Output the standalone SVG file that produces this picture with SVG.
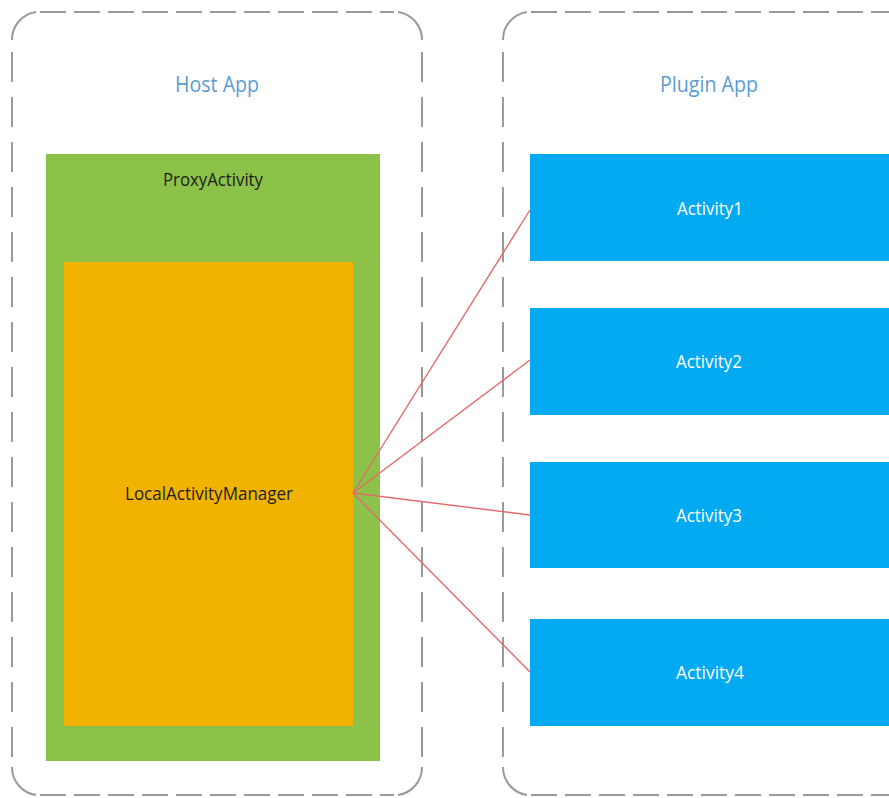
<svg xmlns="http://www.w3.org/2000/svg" width="889" height="798" viewBox="0 0 889 798">
  <style>
    .frame-h { fill: none; stroke: #9a9a9a; stroke-width: 2; stroke-dasharray: 26 8; }
    .frame-v { fill: none; stroke: #9a9a9a; stroke-width: 2; stroke-dasharray: 30 15; }
    .frame-c { fill: none; stroke: #9a9a9a; stroke-width: 2; }
    .title { font-family: "Open Sans", "Noto Sans", sans-serif; font-size: 22px; fill: #5b9bd5; text-anchor: middle; }
    .label { font-family: "Open Sans", "Noto Sans", sans-serif; font-size: 18px; text-anchor: middle; }
    .dark { fill: #1e1e1e; }
    .light { fill: #ffffff; }
    .link { stroke: #e46a6a; stroke-width: 1.4; fill: none; }
    .activity { fill: #03a9f1; }
  </style>

  <rect width="889" height="798" fill="#ffffff"/>

  <!-- Host App frame -->
  <g id="host-app">
    <path class="frame-h" d="M40 12 H394"/>
    <path class="frame-h" d="M40 795 H394"/>
    <path class="frame-v" d="M12 52 V767"/>
    <path class="frame-v" d="M422 52 V767"/>
    <path class="frame-c" d="M12 40 A28 28 0 0 1 36 12"/>
    <path class="frame-c" d="M398 12 A28 28 0 0 1 422 40"/>
    <path class="frame-c" d="M422 767 A28 28 0 0 1 398 795"/>
    <path class="frame-c" d="M36 795 A28 28 0 0 1 12 767"/>
    <text class="title" x="217" y="92" textLength="84" lengthAdjust="spacingAndGlyphs">Host App</text>
  </g>

  <!-- Plugin App frame -->
  <g id="plugin-app">
    <path class="frame-h" d="M531 12 H889"/>
    <path class="frame-h" d="M531 795 H889"/>
    <path class="frame-v" d="M503 52 V767"/>
    <path class="frame-c" d="M503 40 A28 28 0 0 1 527 12"/>
    <path class="frame-c" d="M527 795 A28 28 0 0 1 503 767"/>
    <text class="title" x="709" y="92" textLength="98" lengthAdjust="spacingAndGlyphs">Plugin App</text>
  </g>

  <!-- ProxyActivity -->
  <g id="proxy-activity">
    <rect x="46" y="154" width="334" height="607" fill="#8cc24a"/>
    <text class="label dark" x="213" y="186" textLength="100" lengthAdjust="spacingAndGlyphs">ProxyActivity</text>
  </g>

  <!-- LocalActivityManager -->
  <g id="local-activity-manager">
    <rect x="64" y="262" width="289" height="464" fill="#f1b300"/>
    <text class="label dark" x="209" y="500" textLength="168" lengthAdjust="spacingAndGlyphs">LocalActivityManager</text>
  </g>

  <!-- Plugin activities -->
  <g id="activity1">
    <rect class="activity" x="530" y="154" width="359" height="107"/>
    <text class="label light" x="710" y="215" textLength="66" lengthAdjust="spacingAndGlyphs">Activity1</text>
  </g>
  <g id="activity2">
    <rect class="activity" x="530" y="308" width="359" height="107"/>
    <text class="label light" x="709" y="368" textLength="66" lengthAdjust="spacingAndGlyphs">Activity2</text>
  </g>
  <g id="activity3">
    <rect class="activity" x="530" y="462" width="359" height="106"/>
    <text class="label light" x="709" y="522" textLength="66" lengthAdjust="spacingAndGlyphs">Activity3</text>
  </g>
  <g id="activity4">
    <rect class="activity" x="530" y="619" width="359" height="107"/>
    <text class="label light" x="710" y="679" textLength="68" lengthAdjust="spacingAndGlyphs">Activity4</text>
  </g>

  <!-- Connectors from the manager to each plugin activity -->
  <g id="connectors">
    <line class="link" x1="353" y1="493" x2="530" y2="210"/>
    <line class="link" x1="353" y1="493" x2="530" y2="360"/>
    <line class="link" x1="353" y1="493" x2="530" y2="515"/>
    <line class="link" x1="353" y1="493" x2="530" y2="672"/>
  </g>
</svg>
